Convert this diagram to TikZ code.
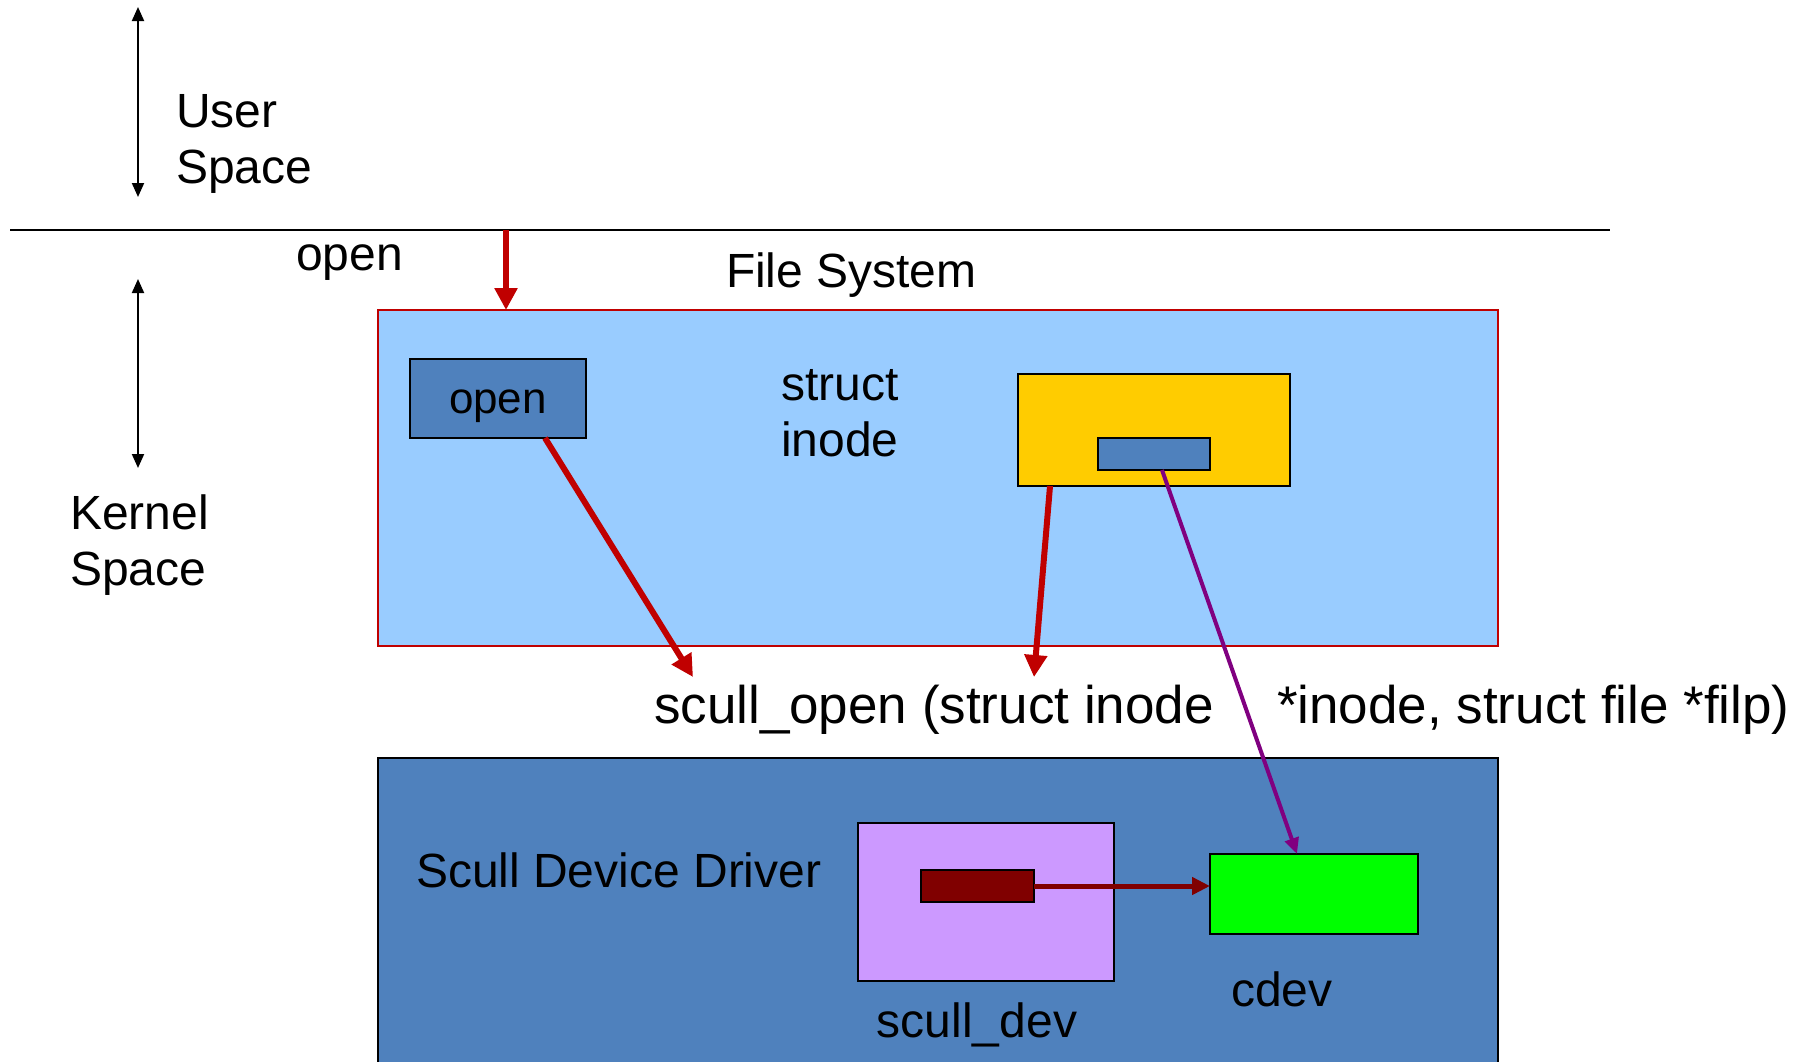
\documentclass[tikz,border=0pt]{standalone}
\usepackage{fontspec}
\setmainfont{Liberation Sans}
\usetikzlibrary{arrows.meta}

\definecolor{fsblue}{RGB}{153,204,255}
\definecolor{drvblue}{RGB}{79,129,189}
\definecolor{inodeyellow}{RGB}{255,204,0}
\definecolor{devpurple}{RGB}{204,153,255}
\definecolor{cdevgreen}{RGB}{0,255,0}
\definecolor{ptrred}{RGB}{128,0,0}
\definecolor{callred}{RGB}{192,0,0}
\definecolor{linkpurple}{RGB}{128,0,128}

\tikzset{every picture/.style={line width=1pt}}
\tikzset{
  blk/.style={draw=black, line width=1pt, inner sep=0pt, outer sep=0pt},
  txt/.style={font=\fontsize{24}{28}\selectfont, inner sep=0pt, align=left},
  sigtxt/.style={font=\fontsize{26.5}{30}\selectfont, inner sep=0pt},
  spacearrow/.style={line width=1pt, {Triangle[length=7pt,width=6pt]}-{Triangle[length=7pt,width=6pt]}},
  callarrow/.style={draw=callred, line width=3pt, -{Triangle[length=11pt,width=11pt]}},
  linkarrow/.style={draw=linkpurple, line width=2pt, -{Triangle[length=8pt,width=7pt]}},
  ptrarrow/.style={draw=ptrred, line width=2.5pt, -{Triangle[length=9pt,width=8.5pt]}},
}

\begin{document}
\begin{tikzpicture}[x=0.5pt,y=0.5pt,yscale=-1]
\path[use as bounding box] (0,0) rectangle (1797,1061);

%Straight Lines: user / kernel boundary
\coordinate (bndL) at (10,230);
\coordinate (bndR) at (1610,230);
\draw (bndL) -- (bndR);

%Double arrows for the two spaces
\coordinate (usrT) at (138,7);
\coordinate (usrB) at (138,197);
\draw[spacearrow] (usrT) -- (usrB);
\coordinate (krnT) at (138,279);
\coordinate (krnB) at (138,468);
\draw[spacearrow] (krnT) -- (krnB);

%Shape: File System box
\node[blk, draw=callred, fill=fsblue, minimum width=560pt, minimum height=168pt] (fs) at (938,478) {};
%Shape: open entry
\node[blk, fill=drvblue, minimum width=88pt, minimum height=39.5pt, font=\fontsize{22}{26}\selectfont, text height=16pt, text depth=1.5pt] (openbox) at (498,398.5) {open};
%Shape: inode
\node[blk, fill=inodeyellow, minimum width=136pt, minimum height=56pt] (inode) at (1154,430) {};
\node[blk, fill=drvblue, minimum width=56pt, minimum height=16pt] (ifield) at (1154,454) {};

%Shape: driver box
\node[blk, fill=drvblue, minimum width=560pt, minimum height=161pt, anchor=north west] (drv) at (378,758) {};
%Shape: scull_dev
\node[blk, fill=devpurple, minimum width=128pt, minimum height=79pt] (sdev) at (986,902) {};
\node[blk, fill=ptrred, minimum width=56.5pt, minimum height=16pt] (ptr) at (977.5,886) {};
%Shape: cdev
\node[blk, fill=cdevgreen, minimum width=104pt, minimum height=40pt] (cdev) at (1314,894) {};

%Arrows
\coordinate (syscall) at (506,230);
\draw[callarrow] (syscall) -- (syscall |- fs.north);
\coordinate (tipA) at (693,677);
\draw[callarrow] ([xshift=23.5pt]openbox.south) -- (tipA);
\coordinate (tipB) at (1034,677);
\draw[callarrow] ([xshift=16pt]inode.south west) -- (tipB);
\draw[linkarrow] ([xshift=4pt]ifield.south) -- ([xshift=-8.5pt]cdev.north);
\draw[ptrarrow] (ptr.east) -- (ptr.east -| cdev.west);

% Text Node (anchored on the last line)
\node[txt, anchor=base west] (usr) at (175,183) {User\\Space};
% Text Node
\node[txt, anchor=base west] (krn) at (69,585) {Kernel\\Space};
% Text Node
\node[txt, anchor=base west] (openlbl) at (295,270) {open};
% Text Node
\node[txt, anchor=base west] (fslbl) at (725,287) {File System};
% Text Node
\node[txt, anchor=base west] (inodelbl) at (780,456) {struct\\inode};
% Text Node
\node[sigtxt, anchor=base west] (sigA) at (653,723) {scull\_open (struct inode};
% Text Node
\node[sigtxt, anchor=base west] (sigB) at (1276,723) {*inode, struct file *filp)};
% Text Node
\node[txt, anchor=base west] (drvlbl) at (415,887) {Scull Device Driver};
% Text Node
\node[txt, anchor=base] (sdevlbl) at (977,1037) {scull\_dev};
% Text Node
\node[txt, anchor=base west] (cdevlbl) at (1230,1006) {cdev};

\end{tikzpicture}
\end{document}
